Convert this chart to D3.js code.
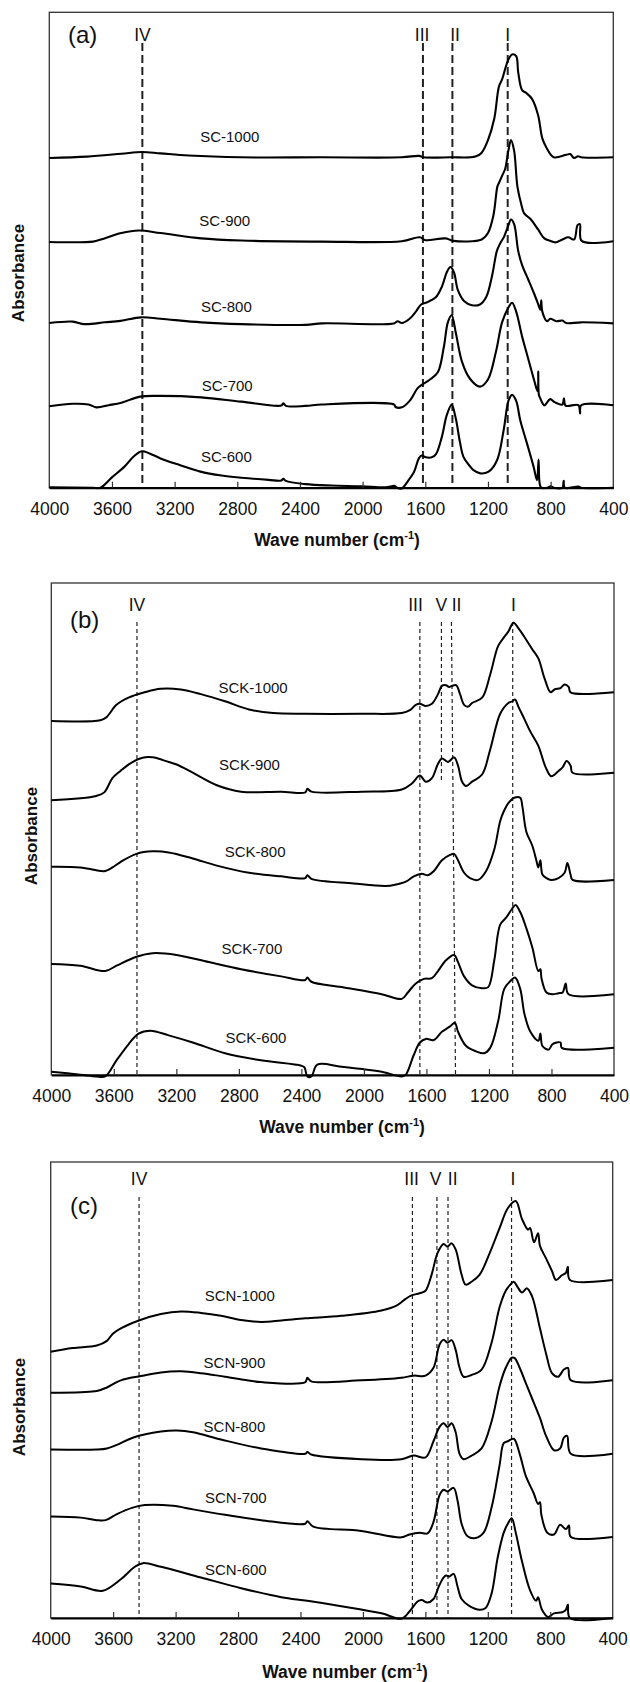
<!DOCTYPE html>
<html>
<head>
<meta charset="utf-8">
<script src="https://cdn.jsdelivr.net/npm/d3@7"></script>
<style>
  body { margin: 0; background: #fff; }
  svg { display: block; }
  text { font-family: "Liberation Sans", Arial, sans-serif; fill: #111; }
</style>
</head>
<body>
<script>
// wave number ticks (cm-1)
var wnTicks = [4000, 3600, 3200, 2800, 2400, 2000, 1600, 1200, 800, 400];

// sample names
var namesA = ["SC-1000", "SC-900", "SC-800", "SC-700", "SC-600"];
var namesB = ["SCK-1000", "SCK-900", "SCK-800", "SCK-700", "SCK-600"];
var namesC = ["SCN-1000", "SCN-900", "SCN-800", "SCN-700", "SCN-600"];

// spectra, [wave number, stacked absorbance (a.u.)]
var sc1000 = [[4000,92.3],[3760,92.7],[3540,93.5],[3410,94.0],[3290,93.6],[3110,93.0],[2780,92.5],[2260,92.5],[1750,92.5],[1640,92.9],[1610,92.5],[1440,92.5],[1280,92.7],[1240,93.8],[1200,97.3],[1160,103.3],[1130,112.3],[1110,114.3],[1090,117.3],[1070,119.8],[1046,121.3],[1020,120.8],[1007,116.3],[982,111.3],[955,110.5],[918,108.8],[880,104.3],[853,97.8],[828,95.3],[780,92.5],[700,93.2],[675,93.4],[650,92.3],[625,92.8],[605,92.5],[400,92.5]];
var sc900 = [[4000,68.8],[3720,68.9],[3670,69.5],[3540,71.3],[3430,72.0],[3290,71.3],[3030,69.8],[2775,69.2],[2260,68.9],[1750,69.0],[1635,70.1],[1600,69.3],[1470,69.8],[1420,69.1],[1240,69.5],[1200,71.3],[1165,76.3],[1140,84.3],[1130,85.3],[1110,87.3],[1090,89.3],[1070,94.3],[1053,97.3],[1033,94.3],[1012,84.3],[987,79.3],[969,76.8],[930,75.3],[880,72.3],[840,69.8],[800,69.1],[765,68.7],[725,69.5],[687,70.1],[650,69.5],[628,73.5],[613,73.8],[602,69.1],[400,69.0]];
var sc800 = [[4000,46.1],[3850,46.5],[3775,45.8],[3645,46.3],[3545,46.7],[3415,47.7],[3290,47.3],[3030,46.3],[2775,45.8],[2365,45.6],[2260,46.0],[1800,46.0],[1776,46.6],[1750,46.1],[1700,47.3],[1660,49.3],[1627,51.3],[1584,52.0],[1533,53.3],[1494,56.3],[1463,60.3],[1440,61.8],[1417,60.3],[1392,55.3],[1353,52.3],[1302,51.1],[1251,51.3],[1212,53.3],[1174,59.3],[1143,66.3],[1123,68.3],[1097,70.3],[1071,73.3],[1053,75.1],[1033,73.8],[1007,66.3],[982,62.3],[943,58.3],[905,54.3],[879,51.3],[866,49.8],[860,52.5],[853,49.3],[823,46.6],[802,47.3],[764,46.6],[725,46.8],[700,46.1],[605,46.3],[400,46.0]];
var sc700 = [[4000,22.8],[3850,23.5],[3750,23.3],[3700,22.5],[3620,23.1],[3540,23.8],[3420,25.5],[3290,25.7],[3030,25.3],[2775,24.1],[2520,23.0],[2505,23.6],[2490,22.9],[2365,22.9],[2260,23.3],[1800,23.3],[1790,22.6],[1750,22.5],[1700,24.3],[1650,27.8],[1622,28.8],[1570,30.3],[1520,32.3],[1482,39.3],[1456,46.3],[1432,48.3],[1405,43.3],[1366,35.3],[1315,30.5],[1251,28.3],[1200,30.3],[1148,38.3],[1110,46.3],[1071,50.3],[1046,51.8],[1020,49.3],[982,42.3],[955,38.0],[930,34.0],[905,30.0],[888,27.5],[882,27.0],[879,32.5],[875,26.0],[866,25.0],[850,23.5],[840,23.0],[802,24.8],[777,24.0],[725,23.3],[715,25.0],[705,23.0],[623,23.1],[612,20.8],[605,23.1],[400,23.1]];
var sc600 = [[4000,0.1],[3720,0],[3674,0],[3600,2.9],[3520,5.9],[3460,8.8],[3410,10.2],[3360,9.6],[3290,8.2],[3164,6.3],[3036,4.5],[2900,3.4],[2775,2.8],[2600,2.2],[2520,2.0],[2506,2.5],[2490,1.9],[2365,1.0],[2200,0.6],[2007,0.4],[1853,0.1],[1795,0.5],[1780,0],[1750,-0.2],[1712,1.8],[1673,4.3],[1640,8.3],[1622,9.0],[1597,8.5],[1558,8.5],[1533,9.3],[1494,14.3],[1463,20.3],[1432,23.2],[1405,19.3],[1380,13.0],[1355,8.5],[1315,6.0],[1292,4.9],[1249,4.0],[1196,4.5],[1142,7.7],[1100,16.1],[1068,24.5],[1046,26.0],[1020,24.3],[994,18.9],[951,12.4],[909,5.9],[887,2.1],[877,7.9],[872,2.0],[862,0.1],[820,0],[800,0.4],[780,0],[725,0],[717,1.9],[710,0],[623,0.3],[605,0],[400,0]];

var sck1000 = [[4000,99.1],[3686,99.3],[3648,100.1],[3583,103.6],[3506,105.6],[3403,107.1],[3301,108.1],[3172,107.9],[3043,106.6],[2889,104.6],[2735,102.3],[2581,101.3],[2375,101.1],[2015,101.1],[1758,101.3],[1706,102.1],[1668,103.6],[1642,103.9],[1604,103.3],[1565,103.9],[1526,106.6],[1501,108.9],[1475,109.1],[1455,108.6],[1436,108.9],[1410,109.1],[1385,106.6],[1359,103.6],[1333,103.1],[1308,104.1],[1244,105.6],[1192,112.1],[1141,120.1],[1102,122.6],[1076,124.1],[1043,126.6],[1012,125.1],[973,122.6],[922,119.1],[884,116.6],[845,111.1],[806,107.1],[781,107.9],[742,108.3],[716,109.3],[690,108.6],[678,107.1],[400,107.1]];
var sck900 = [[4000,76.9],[3712,78.1],[3661,79.1],[3609,83.1],[3558,85.1],[3481,87.6],[3416,88.8],[3352,88.9],[3249,87.6],[3198,86.9],[3095,84.6],[2941,81.1],[2786,79.3],[2529,79.3],[2375,79.1],[2362,80.1],[2336,79.3],[2015,79.3],[1758,79.9],[1693,81.6],[1642,83.8],[1604,82.1],[1565,83.1],[1526,87.1],[1501,88.6],[1462,87.6],[1423,88.9],[1398,86.6],[1372,82.1],[1346,80.9],[1308,82.1],[1244,84.1],[1192,91.1],[1128,101.1],[1076,104.1],[1051,104.6],[1033,105.1],[1012,103.1],[973,99.6],[935,96.1],[884,92.1],[837,86.1],[801,83.6],[755,85.1],[729,86.1],[703,87.9],[678,86.6],[665,84.6],[400,84.6]];
var sck800 = [[4000,58.3],[3815,58.1],[3686,57.1],[3655,57.1],[3609,58.1],[3558,59.6],[3455,61.9],[3352,62.6],[3249,62.3],[3095,60.6],[2941,58.6],[2735,56.6],[2529,55.6],[2375,55.1],[2362,55.9],[2336,54.9],[2066,53.6],[1861,52.9],[1796,53.3],[1732,54.1],[1681,55.6],[1629,56.3],[1591,55.9],[1552,57.1],[1501,60.1],[1449,61.6],[1423,61.9],[1398,60.1],[1359,56.6],[1321,55.1],[1269,54.6],[1218,57.1],[1166,63.1],[1128,71.1],[1102,74.1],[1076,76.1],[1038,77.6],[1000,77.6],[986,75.1],[961,68.1],[922,64.1],[897,60.1],[884,58.1],[871,60.1],[858,56.1],[832,55.1],[801,54.6],[755,55.1],[716,56.6],[698,59.3],[678,56.1],[665,54.6],[400,54.6]];
var sck700 = [[4000,31.1],[3815,30.6],[3655,29.1],[3583,30.6],[3455,33.1],[3352,34.1],[3198,33.6],[2992,31.6],[2786,29.6],[2529,27.6],[2375,26.6],[2362,27.3],[2336,26.1],[2143,24.6],[1886,22.6],[1758,21.3],[1719,23.1],[1668,25.6],[1616,26.9],[1565,27.1],[1526,29.1],[1475,32.1],[1423,33.6],[1398,31.6],[1359,27.6],[1308,25.1],[1244,24.3],[1205,24.6],[1166,32.1],[1128,42.1],[1089,44.1],[1051,46.6],[1030,47.6],[1000,45.6],[961,41.1],[922,35.6],[884,29.1],[871,29.6],[864,27.1],[832,23.1],[794,22.6],[755,22.9],[729,23.1],[709,25.6],[691,22.6],[400,22.6]];
var sck600 = [[4000,0.9],[3815,0.1],[3712,-0.4],[3655,-0.4],[3583,4.1],[3506,8.6],[3442,11.6],[3365,12.4],[3249,11.1],[3095,9.1],[2889,6.1],[2658,4.1],[2401,2.6],[2380,2.1],[2362,-0.4],[2336,-0.4],[2298,2.9],[2143,2.3],[1886,0.9],[1758,-0.4],[1732,0.1],[1681,5.6],[1642,9.1],[1604,10.1],[1552,9.8],[1501,12.1],[1449,13.6],[1418,14.6],[1398,12.1],[1346,8.1],[1282,6.6],[1231,6.1],[1192,7.6],[1141,15.1],[1102,24.1],[1063,26.3],[1033,27.3],[1000,24.1],[973,17.1],[935,12.1],[884,9.6],[871,11.6],[858,8.1],[819,7.1],[794,8.6],[768,9.1],[742,9.1],[734,7.6],[400,7.6]];

var scn1000 = [[4000,74.3],[3859,75.3],[3705,76.0],[3640,77.3],[3602,79.3],[3551,80.8],[3435,83.0],[3294,84.8],[3165,85.5],[3037,85.1],[2909,84.3],[2780,83.1],[2652,82.6],[2523,83.0],[2369,83.6],[2138,84.3],[1881,85.8],[1779,87.3],[1727,89.0],[1689,90.0],[1637,90.6],[1599,91.3],[1560,95.8],[1522,101.8],[1483,104.3],[1458,103.6],[1432,104.5],[1406,102.8],[1368,95.8],[1342,93.0],[1304,93.8],[1252,95.8],[1188,101.8],[1124,108.8],[1072,114.3],[1021,116.3],[981,111.3],[942,108.3],[929,108.8],[904,104.8],[878,107.3],[866,103.8],[827,100.3],[789,96.8],[763,94.3],[726,95.6],[700,96.3],[687,98.0],[674,94.3],[400,94.3]];
var scn900 = [[4000,62.8],[3807,63.0],[3705,63.3],[3640,64.3],[3551,66.3],[3422,67.5],[3294,68.5],[3165,68.8],[3037,68.3],[2883,67.3],[2652,65.8],[2369,65.8],[2356,67.0],[2331,66.0],[2010,66.3],[1753,67.0],[1676,67.6],[1599,67.6],[1548,69.8],[1509,76.3],[1483,77.6],[1458,76.8],[1432,77.5],[1406,74.8],[1381,69.8],[1355,67.3],[1304,67.8],[1240,69.3],[1176,76.8],[1124,86.8],[1085,91.3],[1060,92.8],[1034,93.8],[1009,92.3],[981,90.8],[950,92.0],[917,89.8],[866,80.8],[827,73.8],[789,68.3],[750,67.3],[713,69.3],[687,69.8],[668,66.3],[400,66.3]];
var scn800 = [[4000,47.0],[3705,47.0],[3640,47.3],[3576,48.3],[3474,50.3],[3294,52.0],[3191,52.3],[3088,51.8],[2909,49.8],[2652,47.3],[2369,45.8],[2356,46.3],[2331,45.6],[2010,44.3],[1753,44.3],[1676,45.3],[1599,44.8],[1548,49.3],[1509,53.3],[1483,54.3],[1458,53.3],[1432,54.3],[1406,51.8],[1381,45.8],[1355,44.3],[1304,45.3],[1240,47.3],[1176,54.8],[1124,64.8],[1085,69.8],[1047,72.6],[1028,72.5],[996,69.8],[950,64.8],[917,61.3],[866,55.8],[827,50.8],[776,46.8],[737,47.3],[713,50.3],[692,50.8],[668,45.8],[400,45.8]];
var scn700 = [[4000,28.3],[3807,28.0],[3705,27.3],[3648,27.3],[3576,29.0],[3474,30.8],[3397,31.5],[3217,31.3],[3088,30.3],[2883,28.8],[2652,27.3],[2369,26.3],[2356,27.0],[2318,25.5],[2010,24.3],[1753,22.5],[1702,23.3],[1637,23.8],[1586,23.6],[1548,26.8],[1509,34.3],[1483,35.8],[1458,35.3],[1419,36.3],[1394,32.8],[1368,26.3],[1330,22.8],[1278,22.3],[1227,23.8],[1176,30.8],[1124,42.8],[1098,48.8],[1072,49.3],[1034,50.0],[996,45.8],[958,39.8],[906,34.8],[878,31.8],[866,32.3],[857,28.8],[819,23.8],[776,23.3],[737,26.0],[700,24.8],[680,25.8],[668,22.6],[400,22.6]];
var scn600 = [[4000,9.6],[3807,8.8],[3666,7.6],[3551,10.8],[3461,14.3],[3409,15.3],[3294,14.3],[3037,11.3],[2780,8.3],[2523,5.8],[2356,4.8],[2138,3.3],[1881,1.3],[1753,-0.2],[1702,1.8],[1650,4.6],[1624,5.0],[1586,4.3],[1548,5.3],[1509,9.3],[1471,11.8],[1445,11.6],[1419,12.3],[1394,8.8],[1368,5.3],[1317,3.3],[1252,2.3],[1214,2.8],[1176,6.8],[1137,16.8],[1098,23.8],[1072,26.3],[1047,27.8],[1021,23.8],[981,15.8],[930,7.8],[891,4.8],[878,5.8],[853,2.3],[814,0.3],[776,1.3],[724,1.6],[700,2.3],[687,3.8],[674,0],[400,0]];

// band markers: line position, bottom end (for slanted / short lines), label position
var bandsA = [
  {name: "IV", wn: 3406, text: 3405},
  {name: "III", wn: 1615, text: 1620},
  {name: "II", wn: 1427, text: 1410},
  {name: "I", wn: 1074, text: 1074}
];
var bandsB = [
  {name: "IV", wn: 3452, text: 3452},
  {name: "III", wn: 1642, text: 1670},
  {name: "V", wn: 1504, text: 1504, stop: 82.1},
  {name: "II", wn: 1440, wnEnd: 1414, text: 1407},
  {name: "I", wn: 1048, text: 1044}
];
var bandsC = [
  {name: "IV", wn: 3434, text: 3434},
  {name: "III", wn: 1683, text: 1688},
  {name: "V", wn: 1526, text: 1534},
  {name: "II", wn: 1455, text: 1425},
  {name: "I", wn: 1048, text: 1039}
];

var W = 630, H = 1682;
var svg = d3.select("body").append("svg").attr("width", W).attr("height", H);

var panels = [
  {tag: "(a)", box: {l: 49.3, r: 613.3, t: 12.3, b: 487.7}, yTop: 133.1,
   series: [sc1000, sc900, sc800, sc700, sc600], names: namesA,
   nameAt: [[2848, 98.2], [2880, 74.7], [2870, 50.7], [2864, 28.7], [2870, 8.6]],
   bands: bandsA, bandTextY: 40.5, bandTop: 43, dash: "8,4", dashW: 2,
   tagX: 68, tagY: 43, yTitle: [18, 273], xTitle: [337, 546], lineW: 2.1},
  {tag: "(b)", box: {l: 51.3, r: 614, t: 583, b: 1075}, yTop: 137.7,
   series: [sck1000, sck900, sck800, sck700, sck600], names: namesB,
   nameAt: [[2709, 108.4], [2732, 86.8], [2696, 62.6], [2717, 35.3], [2691, 10.4]],
   bands: bandsB, bandTextY: 611, bandTop: 622, dash: "4,3", dashW: 1.2,
   tagX: 70, tagY: 628, yTitle: [31, 836], xTitle: [342, 1133], lineW: 2},
  {tag: "(c)", box: {l: 50.7, r: 612.7, t: 1162, b: 1618}, yTop: 127.2,
   series: [scn1000, scn900, scn800, scn700, scn600], names: namesC,
   nameAt: [[2789, 89.8], [2823, 71.3], [2823, 53.5], [2814, 33.5], [2814, 13.6]],
   bands: bandsC, bandTextY: 1185, bandTop: 1197, dash: "4,3", dashW: 1.2,
   tagX: 70, tagY: 1214, yTitle: [19, 1407], xTitle: [345, 1678], lineW: 2}
];

panels.forEach(function(p) {
  var b = p.box;
  var x = d3.scaleLinear().domain([4000, 400]).range([b.l, b.r]);
  var y = d3.scaleLinear().domain([0, p.yTop]).range([b.b, b.t]);
  var g = svg.append("g");

  // frame
  g.append("rect")
    .attr("x", b.l).attr("y", b.t)
    .attr("width", b.r - b.l).attr("height", b.b - b.t)
    .attr("fill", "none").attr("stroke", "#333").attr("stroke-width", 1.3);

  // band marker lines
  p.bands.forEach(function(d) {
    g.append("line")
      .attr("x1", x(d.wn)).attr("y1", p.bandTop)
      .attr("x2", x(d.wnEnd || d.wn))
      .attr("y2", d.stop ? y(d.stop) : b.b)
      .attr("stroke", "#222").attr("stroke-width", p.dashW)
      .attr("stroke-dasharray", p.dash);
    g.append("text")
      .attr("x", x(d.text)).attr("y", p.bandTextY)
      .attr("text-anchor", "middle")
      .style("font-size", "17.5px")
      .text(d.name);
  });

  // spectra
  var line = d3.line()
    .x(function(d) { return x(d[0]); })
    .y(function(d) { return y(d[1]); })
    .curve(d3.curveCatmullRom.alpha(0.5));

  g.selectAll("path.spec")
    .data(p.series)
    .enter().append("path")
    .attr("class", "spec")
    .attr("d", line)
    .attr("fill", "none")
    .attr("stroke", "#000")
    .attr("stroke-width", p.lineW)
    .attr("stroke-linejoin", "round");

  // sample names
  g.selectAll("text.name")
    .data(p.names)
    .enter().append("text")
    .attr("class", "name")
    .attr("x", function(d, i) { return x(p.nameAt[i][0]); })
    .attr("y", function(d, i) { return y(p.nameAt[i][1]); })
    .attr("dy", "0.36em")
    .attr("text-anchor", "middle")
    .style("font-size", "15px")
    .text(function(d) { return d; });

  // bottom axis, ticks pointing inward
  var xAxis = d3.axisBottom(x)
    .tickValues(wnTicks)
    .tickFormat(d3.format("d"))
    .tickSizeInner(-6)
    .tickSizeOuter(0)
    .tickPadding(15);

  var ax = g.append("g")
    .attr("transform", "translate(0," + b.b + ")")
    .call(xAxis);
  ax.select(".domain").attr("stroke", "#000").attr("stroke-width", 2.2);
  ax.selectAll(".tick line").attr("stroke", "#333").attr("stroke-width", 1.2)
    .filter(function(d) { return d === 4000 || d === 400; }).remove();
  ax.selectAll(".tick text")
    .style("font-size", "17.5px")
    .style("font-family", "'Liberation Sans', Arial, sans-serif")
    .attr("fill", "#111");

  // panel tag
  g.append("text")
    .attr("x", p.tagX).attr("y", p.tagY)
    .style("font-size", "24px")
    .text(p.tag);

  // axis titles
  g.append("text")
    .attr("transform", "translate(" + p.yTitle[0] + "," + p.yTitle[1] + ") rotate(-90)")
    .attr("text-anchor", "middle")
    .attr("dy", "0.36em")
    .style("font-size", "17px")
    .style("font-weight", "bold")
    .text("Absorbance");

  var xt = g.append("text")
    .attr("x", p.xTitle[0]).attr("y", p.xTitle[1])
    .attr("text-anchor", "middle")
    .style("font-size", "17.5px")
    .style("font-weight", "bold");
  xt.append("tspan").text("Wave number (cm");
  xt.append("tspan").attr("dy", -7).style("font-size", "11px").text("-1");
  xt.append("tspan").attr("dy", 7).text(")");
});
</script>
</body>
</html>
